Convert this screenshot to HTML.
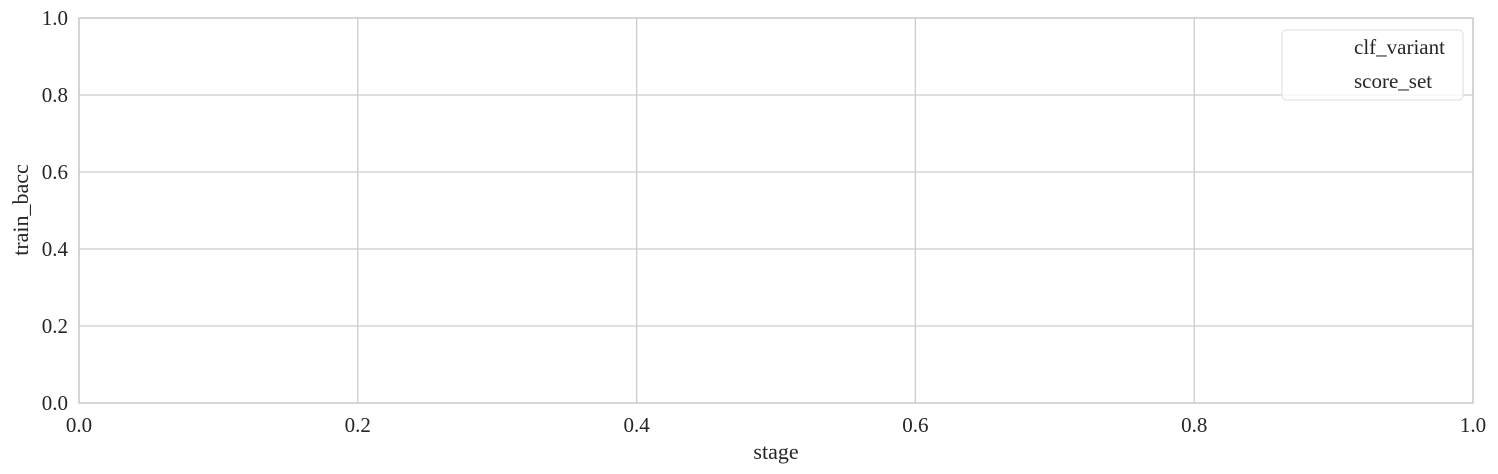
<!DOCTYPE html>
<html><head><meta charset="utf-8"><style>
body{margin:0;background:#fff}
svg{display:block;font-family:"Liberation Serif",serif}
</style></head><body>
<svg width="1498" height="474">
<g id="grid"></g>
<rect x="79" y="18" width="1394" height="385" fill="none" stroke="#cccccc" stroke-width="1.5"/>
<g id="ticks" font-size="21" fill="#262626"></g>
<text x="776" y="459" font-size="22" text-anchor="middle" fill="#262626">stage</text>
<text transform="translate(28,210) rotate(-90)" font-size="22" text-anchor="middle" fill="#262626">train_bacc</text>
<g>
<rect x="1282" y="30" width="181" height="70" rx="4" fill="#fff" fill-opacity="0.8" stroke="#dddddd"/>
<text x="1354" y="54" font-size="21" fill="#262626">clf_variant</text>
<text x="1354" y="88" font-size="21" fill="#262626">score_set</text>
</g>
</svg>
<script>
const xTicks=[0,0.2,0.4,0.6,0.8,1.0];
const yTicks=[0,0.2,0.4,0.6,0.8,1.0];
const xs=v=>79+v*1394, ys=v=>403-v*385;
const ns="http://www.w3.org/2000/svg";
const g=document.getElementById('grid'), t=document.getElementById('ticks');
xTicks.forEach(v=>{
 const l=document.createElementNS(ns,'line');
 
 
 l.setAttribute('x1',xs(v));l.setAttribute('x2',xs(v));l.setAttribute('y1',18);l.setAttribute('y2',403);
 l.setAttribute('stroke','#cccccc');l.setAttribute('stroke-width','1.3');g.appendChild(l);
 const s=document.createElementNS(ns,'text');
 
 
 s.setAttribute('x',xs(v));s.setAttribute('y',432);s.setAttribute('text-anchor','middle');
 s.textContent=v.toFixed(1);t.appendChild(s);
});
yTicks.forEach(v=>{
 const l=document.createElementNS(ns,'line');
 
 
 l.setAttribute('x1',79);l.setAttribute('x2',1473);l.setAttribute('y1',ys(v));l.setAttribute('y2',ys(v));
 l.setAttribute('stroke','#cccccc');l.setAttribute('stroke-width','1.3');g.appendChild(l);
 const s=document.createElementNS(ns,'text');
 
 
 s.setAttribute('x',68);s.setAttribute('y',ys(v)+7);s.setAttribute('text-anchor','end');
 s.textContent=v.toFixed(1);t.appendChild(s);
});
</script>
</body></html>
